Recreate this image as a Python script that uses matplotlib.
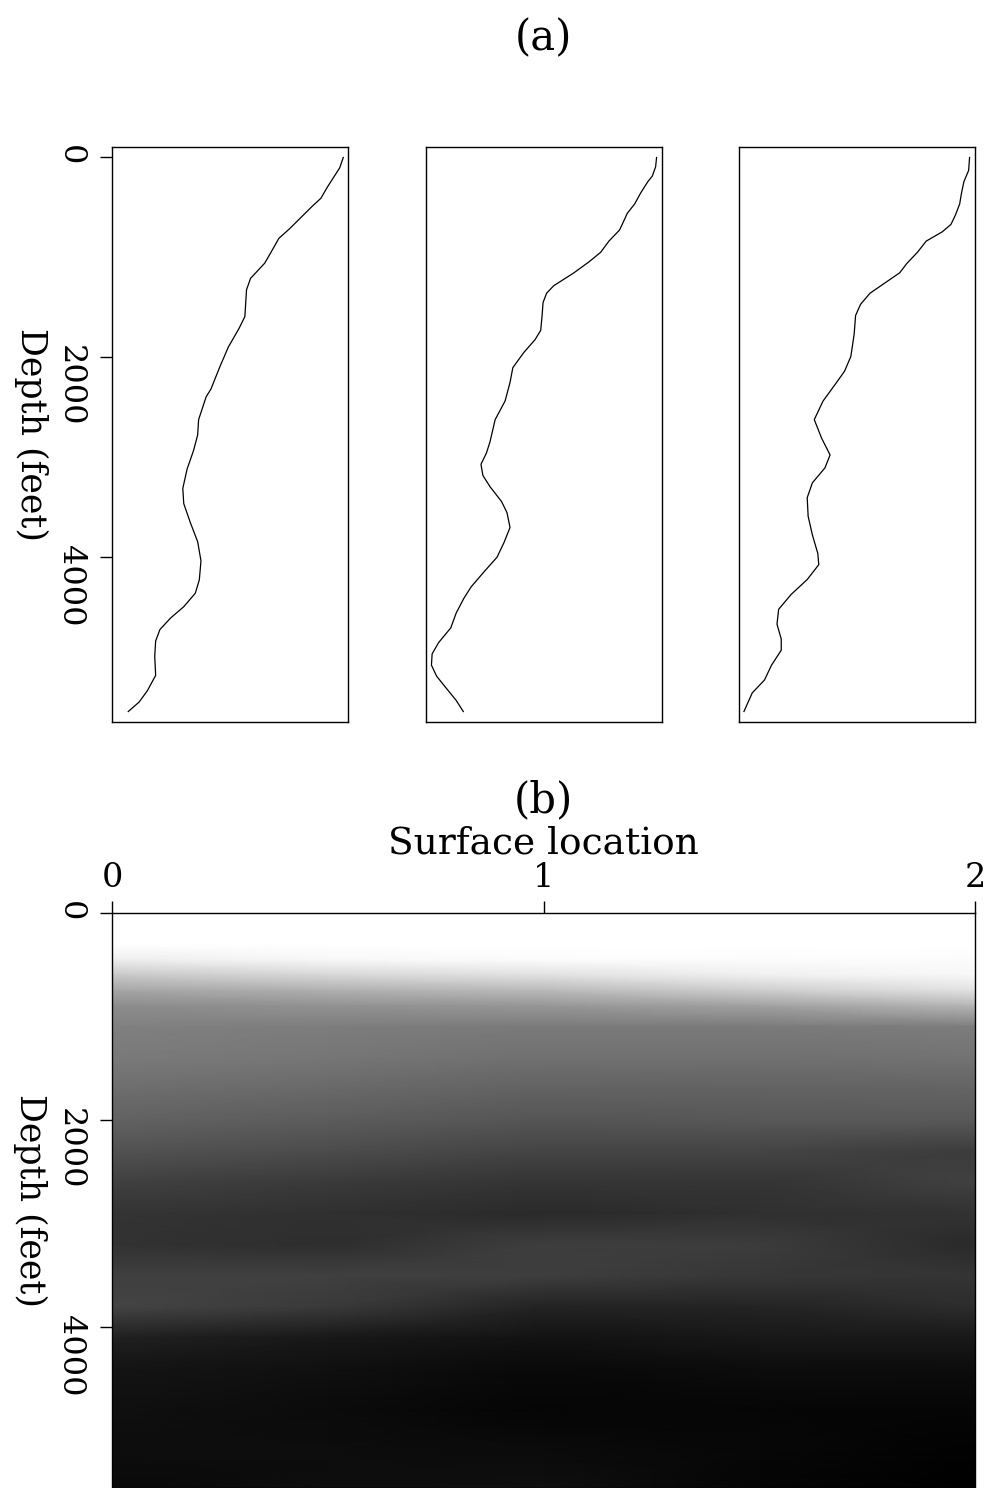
import numpy as np
import matplotlib.pyplot as plt

plt.rcParams['font.family'] = ['DejaVu Serif']

# well logs (value as fraction of panel width) vs depth in feet
depth1 = [0, 103, 295, 409, 485, 600, 715, 810, 944, 1059, 1211, 1326, 1594, 1709, 1899,
          2091, 2321, 2397, 2626, 2779, 2932, 3123, 3315, 3467, 3658, 3849, 4041, 4231,
          4365, 4500, 4614, 4729, 4843, 4996, 5188, 5341, 5455, 5550]
log1 = [0.980, 0.965, 0.913, 0.885, 0.850, 0.801, 0.752, 0.707, 0.675, 0.647, 0.587, 0.570,
        0.563, 0.539, 0.493, 0.458, 0.419, 0.399, 0.367, 0.363, 0.346, 0.318, 0.300, 0.304,
        0.332, 0.363, 0.377, 0.370, 0.353, 0.304, 0.248, 0.203, 0.185, 0.181, 0.185, 0.150,
        0.115, 0.069]

depth2 = [0, 93, 186, 242, 354, 466, 559, 652, 727, 838, 950, 1043, 1155, 1285, 1360, 1453,
          1583, 1732, 1825, 1955, 2105, 2254, 2440, 2626, 2850, 2961, 3073, 3185, 3297, 3446,
          3557, 3706, 3855, 4004, 4153, 4302, 4414, 4563, 4712, 4861, 4973, 5085, 5196, 5308,
          5439, 5550]
log2 = [0.977, 0.973, 0.959, 0.940, 0.910, 0.884, 0.853, 0.835, 0.820, 0.775, 0.740, 0.692,
        0.627, 0.541, 0.511, 0.496, 0.492, 0.486, 0.462, 0.414, 0.368, 0.356, 0.335, 0.293,
        0.271, 0.256, 0.233, 0.241, 0.271, 0.320, 0.343, 0.356, 0.331, 0.301, 0.245, 0.191,
        0.161, 0.128, 0.105, 0.053, 0.026, 0.023, 0.045, 0.083, 0.128, 0.158]

depth3 = [0, 130, 242, 354, 466, 577, 671, 745, 838, 950, 1062, 1155, 1267, 1360, 1471, 1583,
          1769, 1993, 2142, 2291, 2440, 2626, 2812, 2980, 3110, 3259, 3408, 3595, 3781, 3967,
          4079, 4228, 4377, 4526, 4675, 4824, 4936, 5085, 5234, 5364, 5550]
log3 = [0.977, 0.973, 0.953, 0.943, 0.935, 0.917, 0.898, 0.861, 0.793, 0.756, 0.711, 0.681,
        0.612, 0.555, 0.515, 0.494, 0.488, 0.474, 0.447, 0.402, 0.356, 0.319, 0.350, 0.386,
        0.364, 0.311, 0.289, 0.293, 0.311, 0.334, 0.338, 0.289, 0.221, 0.168, 0.161, 0.179,
        0.179, 0.138, 0.108, 0.056, 0.021]

# interpolated model (gray level 0-255) at a few surface locations
surface = [0.0, 0.5, 1.0, 1.5, 2.0]
model_depth = [0, 300, 450, 600, 750, 900, 1100, 1400, 1700, 2000, 2300, 2600, 2900, 3200,
               3500, 3800, 4100, 4400, 4800, 5200, 5550]
model = np.array([
    [255, 255, 255, 255, 255],
    [255, 255, 255, 255, 255],
    [238, 248, 252, 252, 252],
    [200, 215, 225, 240, 248],
    [165, 175, 185, 205, 225],
    [140, 145, 150, 160, 180],
    [128, 125, 122, 122, 125],
    [122, 118, 112, 112, 115],
    [110, 105, 98, 98, 100],
    [98, 92, 85, 88, 88],
    [82, 76, 68, 68, 60],
    [64, 58, 52, 52, 65],
    [52, 48, 42, 48, 50],
    [50, 46, 62, 60, 42],
    [64, 64, 62, 55, 52],
    [68, 58, 35, 36, 45],
    [32, 24, 18, 24, 24],
    [20, 16, 9, 12, 12],
    [16, 11, 5, 6, 5],
    [13, 13, 11, 7, 2],
    [9, 13, 15, 5, 0],
])

fig = plt.figure(figsize=(9.89, 14.88), dpi=100)

W, H = 989.0, 1488.0
lefts = [112, 426, 739]
logs = [(depth1, log1), (depth2, log2), (depth3, log3)]
for i, (d, v) in enumerate(logs):
    ax = fig.add_axes([lefts[i] / W, 1 - 722 / H, 236 / W, 575 / H])
    ax.plot(v, d, color='black', lw=0.9)
    ax.set_xlim(0, 1)
    ax.set_ylim(5655, -105)
    ax.set_xticks([])
    for s in ax.spines.values():
        s.set_linewidth(1.0)
    if i == 0:
        ax.set_yticks([0, 2000, 4000])
        ax.tick_params(axis='y', length=9, width=1.0, pad=10, labelsize=23)
        for t in ax.get_yticklabels():
            t.set_rotation(-90)
        ax.set_ylabel('Depth (feet)', fontsize=25, rotation=270, va='center', ha='center')
        ax.yaxis.set_label_coords(-0.345, 0.5)
    else:
        ax.set_yticks([])

fig.text(543 / W, 1 - 38 / H, '(a)', fontsize=30, ha='center', va='center')

ax = fig.add_axes([112 / W, 0, 863 / W, 575 / H])
X, Z = np.meshgrid(surface, model_depth)
ax.pcolormesh(X, Z, model, shading='gouraud', cmap='gray', vmin=0, vmax=255)
ax.set_xlim(0, 2)
ax.set_ylim(5550, 0)
ax.xaxis.tick_top()
ax.xaxis.set_label_position('top')
ax.set_xticks([0, 1, 2])
ax.set_yticks([0, 2000, 4000])
ax.tick_params(axis='x', length=9, width=1.0, pad=5, labelsize=24)
ax.tick_params(axis='y', length=9, width=1.0, pad=10, labelsize=23)
for t in ax.get_yticklabels():
    t.set_rotation(-90)
ax.set_xlabel('Surface location', fontsize=27, labelpad=6)
ax.set_ylabel('Depth (feet)', fontsize=25, rotation=270, va='center', ha='center')
ax.yaxis.set_label_coords(-0.0944, 0.5)
for s in ax.spines.values():
    s.set_linewidth(1.0)

fig.text(543 / W, 1 - 800 / H, '(b)', fontsize=30, ha='center', va='center')

fig.savefig('out.png', dpi=100)
